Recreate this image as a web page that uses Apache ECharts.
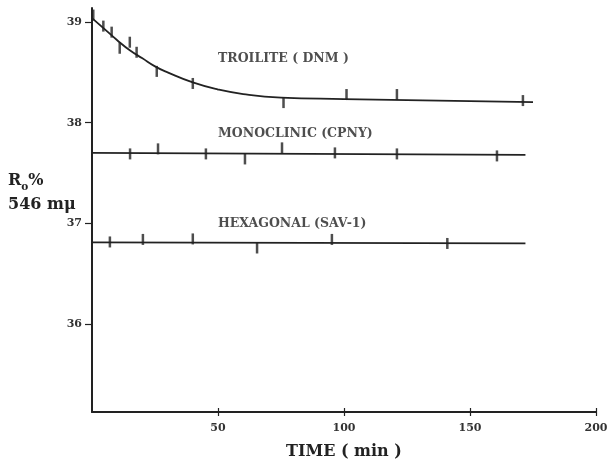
<!DOCTYPE html>
<html>
<head>
<meta charset="utf-8">
<script src="https://cdn.jsdelivr.net/npm/echarts@6/dist/echarts.min.js"></script>
<style>html,body{margin:0;padding:0;background:#fff}#c{width:610px;height:463px}</style>
</head>
<body>
<div id="c"></div>
<script>
// ---- data ----
const xTicks = [50, 100, 150, 200];
const yTicks = [36, 37, 38, 39];

const troiliteCurveT = [0, 5, 10, 15, 20, 25, 30, 40, 50, 60, 75, 100, 125, 150, 175];
const troiliteCurveR = [39.04, 38.93, 38.82, 38.72, 38.64, 38.56, 38.50, 38.40, 38.33, 38.285, 38.25, 38.235, 38.225, 38.215, 38.205];
const troilitePtsT = [0.5, 4.5, 7.8, 11, 15, 17.7, 25.7, 40, 76, 101, 121, 171];
const troilitePtsR = [39.07, 38.96, 38.90, 38.74, 38.80, 38.70, 38.51, 38.39, 38.20, 38.28, 38.28, 38.22];

const monoLineT = [0, 172];
const monoLineR = [37.70, 37.68];
const monoPtsT = [15.1, 26.2, 45.2, 60.7, 75.4, 96.4, 121, 160.7];
const monoPtsR = [37.69, 37.74, 37.69, 37.64, 37.75, 37.70, 37.69, 37.67];

const hexLineT = [0, 172];
const hexLineR = [36.81, 36.80];
const hexPtsT = [7.1, 20.2, 40, 65.5, 95.2, 141];
const hexPtsR = [36.815, 36.84, 36.845, 36.755, 36.84, 36.80];

const seriesLabels = ['TROILITE ( DNM )', 'MONOCLINIC (CPNY)', 'HEXAGONAL (SAV-1)'];
const labelT = [50, 50, 50];
const labelR = [38.64, 37.89, 37.00];

// ---- build ----
const zip = (a, b) => a.map((v, i) => [v, b[i]]);
const ink = '#222';
const serif = '"DejaVu Serif", "Liberation Serif", serif';

function line(t, r) {
  return { type: 'line', data: zip(t, r), smooth: true, symbol: 'none',
    lineStyle: { color: ink, width: 1.8 }, silent: true, z: 2 };
}
function pts(t, r) {
  return { type: 'scatter', data: zip(t, r), symbol: 'rect', symbolSize: [2.5, 11],
    itemStyle: { color: ink }, silent: true, z: 3 };
}

const chart = echarts.init(document.getElementById('c'), null, { renderer: 'canvas' });
chart.setOption({
  backgroundColor: '#fff',
  animation: false,
  grid: { left: 92, right: 14, top: 8, bottom: 51, outerBoundsMode: 'none', containLabel: false },
  xAxis: [{
    type: 'value', min: 0, max: 200, interval: 50,
    splitLine: { show: false },
    axisLine: { show: true, onZero: false, lineStyle: { color: ink, width: 2 } },
    axisTick: { show: true, length: 4, lineStyle: { color: ink, width: 1.2 }, customValues: xTicks },
    axisLabel: { customValues: xTicks, margin: 11, color: '#333', fontFamily: serif, fontSize: 11, fontWeight: 'bold' },
    name: 'TIME ( min )', nameLocation: 'middle', nameGap: 32, nameMoveOverlap: false,
    nameTextStyle: { color: '#222', fontFamily: serif, fontSize: 16, fontWeight: 'bold' }
  }, {
    type: 'value', min: 0, max: 200, interval: 50, position: 'bottom', offset: 0,
    splitLine: { show: false },
    axisLine: { show: false },
    axisTick: { show: true, inside: true, length: 4, lineStyle: { color: ink, width: 1.2 }, customValues: xTicks },
    axisLabel: { show: false }
  }],
  yAxis: {
    type: 'value', min: 35.125, max: 39.14,
    splitLine: { show: false },
    axisLine: { show: true, onZero: false, lineStyle: { color: ink, width: 2 } },
    axisTick: { show: true, length: 7, lineStyle: { color: ink, width: 1.2 }, customValues: yTicks },
    axisLabel: { customValues: yTicks, margin: 10, color: '#333', fontFamily: serif, fontSize: 11, fontWeight: 'bold' },
    name: '{a|R}{b|o}{a|%}\n{a|546 mμ}', nameLocation: 'middle', nameRotate: 0, nameGap: 84,
    nameMoveOverlap: false,
    nameTextStyle: {
      align: 'left', verticalAlign: 'middle', padding: [0, 0, 34, 0],
      rich: {
        a: { color: '#222', fontFamily: serif, fontSize: 16, fontWeight: 'bold', lineHeight: 24 },
        b: { color: '#222', fontFamily: serif, fontSize: 10.5, fontWeight: 'bold', lineHeight: 24, verticalAlign: 'bottom' }
      }
    }
  },
  series: [
    line(troiliteCurveT, troiliteCurveR), pts(troilitePtsT, troilitePtsR),
    line(monoLineT, monoLineR), pts(monoPtsT, monoPtsR),
    line(hexLineT, hexLineR), pts(hexPtsT, hexPtsR),
    {
      type: 'scatter', symbolSize: 0, silent: true, z: 4,
      data: seriesLabels.map((s, i) => ({ value: [labelT[i], labelR[i]], name: s })),
      label: { show: true, position: 'right', distance: 0, formatter: p => p.name,
        color: '#222', fontFamily: serif, fontSize: 12.5, fontWeight: 'bold' }
    }
  ]
});
</script>
</body>
</html>
